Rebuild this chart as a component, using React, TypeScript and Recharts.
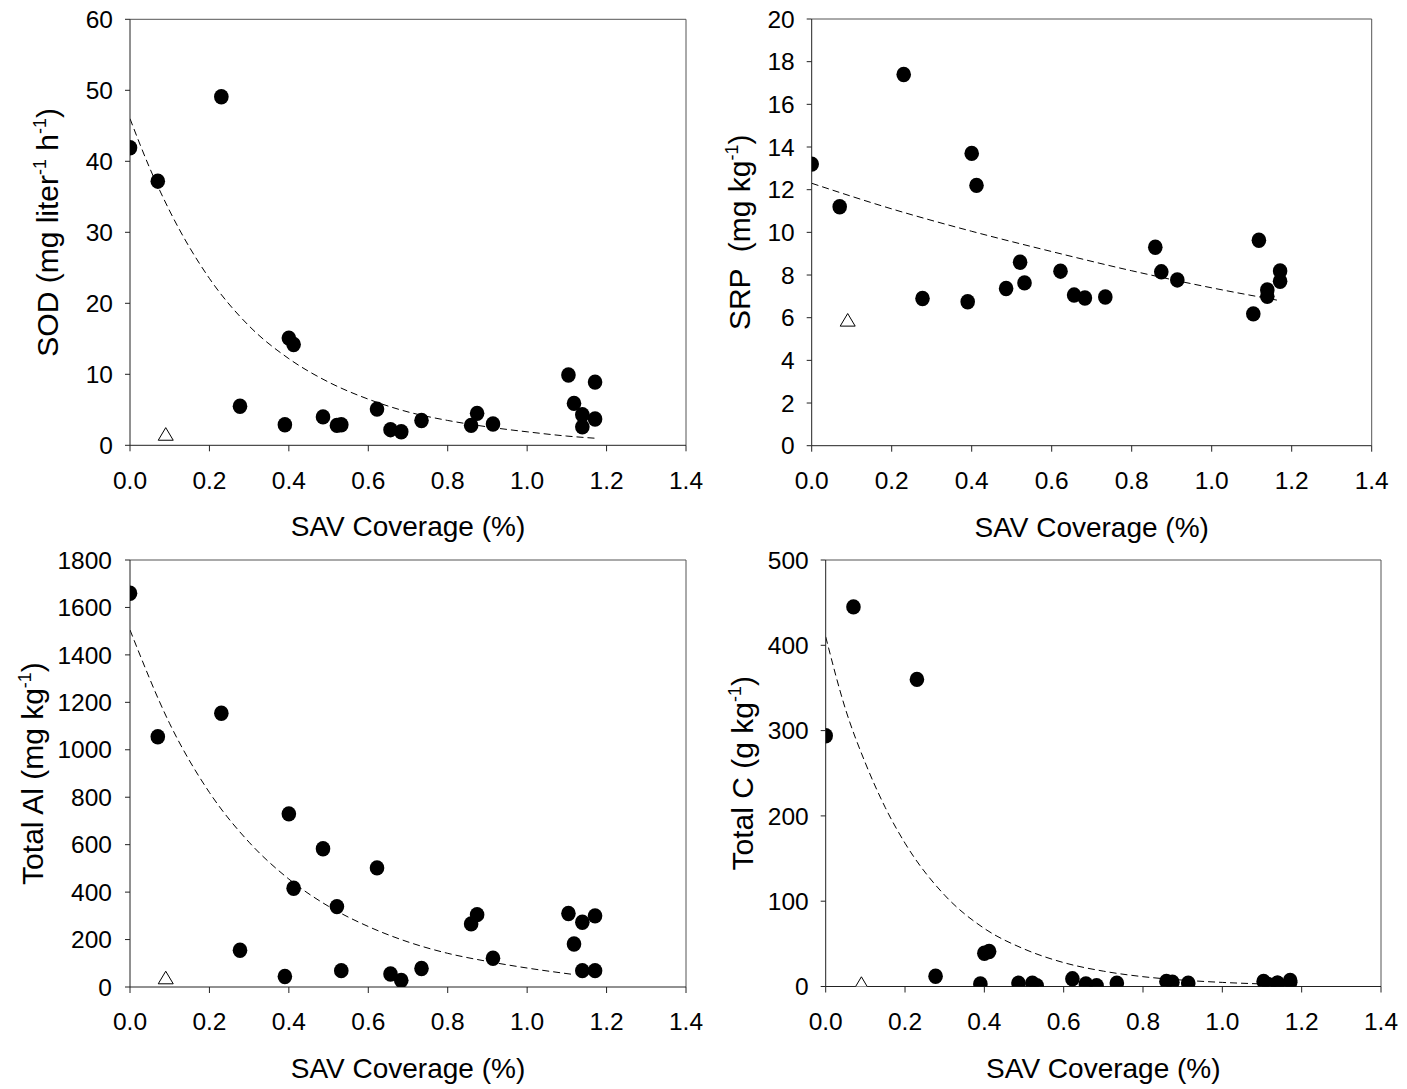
import React from 'react';
import { ComposedChart, Scatter, Line, XAxis, YAxis, ReferenceLine } from 'recharts';

// ---- data ----
const coverage = [0.0, 0.07, 0.23, 0.277, 0.39, 0.40, 0.412, 0.486, 0.521, 0.532, 0.622, 0.656, 0.683, 0.734, 0.859, 0.874, 0.914, 1.104, 1.118, 1.139, 1.139, 1.171, 1.171];
const sodValues = [41.9, 37.2, 49.1, 5.5, 2.9, 15.1, 14.2, 4.0, 2.8, 2.9, 5.1, 2.2, 1.9, 3.5, 2.8, 4.5, 3.0, 9.9, 5.9, 4.3, 2.6, 8.9, 3.7];
const srpValues = [13.2, 11.2, 17.4, 6.9, 6.75, 13.7, 12.2, 7.37, 8.6, 7.63, 8.18, 7.06, 6.92, 6.97, 9.3, 8.15, 7.77, 6.18, 9.63, 7.3, 7.0, 8.19, 7.71];
const alValues = [1660, 1055, 1154, 155, 44, 730, 416, 583, 339, 69, 502, 55, 28, 78, 266, 305, 121, 310, 181, 273, 69, 300, 69];
const cValues = [294, 445, 360, 12, 3, 39, 41, 4, 4, 1, 9, 3, 1, 4, 6, 5, 4, 6, 2, 4, 4, 7, 5];

const refCoverage = [0.09];
const sodRef = [1.6];
const srpRef = [5.9];
const alRef = [40];
const cRef = [4];

const sodFitX = [0, 0.05, 0.1, 0.2, 0.3, 0.4, 0.5, 0.6, 0.7, 0.8, 0.9, 1.0, 1.1, 1.17];
const sodFitY = [46.0, 39.0, 33.0, 23.5, 16.8, 12.2, 8.9, 6.5, 4.7, 3.5, 2.6, 1.9, 1.3, 1.0];
const srpFitX = [0, 0.2, 0.4, 0.6, 0.8, 1.0, 1.17];
const srpFitY = [12.3, 11.1, 10.05, 9.1, 8.2, 7.4, 6.8];
const alFitX = [0, 0.1, 0.2, 0.3, 0.4, 0.5, 0.6, 0.7, 0.8, 0.9, 1.0, 1.12];
const alFitY = [1505, 1110, 820, 610, 455, 340, 255, 190, 142, 108, 80, 52];
const cFitX = [0, 0.05, 0.1, 0.15, 0.2, 0.3, 0.4, 0.5, 0.6, 0.7, 0.8, 0.9, 1.0, 1.1];
const cFitY = [410, 325, 262, 210, 168, 107, 68, 44, 28, 18, 11.5, 7.5, 4.8, 3];

const xTicks = [0, 0.2, 0.4, 0.6, 0.8, 1.0, 1.2, 1.4];
const sodTicks = [0, 10, 20, 30, 40, 50, 60];
const srpTicks = [0, 2, 4, 6, 8, 10, 12, 14, 16, 18, 20];
const alTicks = [0, 200, 400, 600, 800, 1000, 1200, 1400, 1600, 1800];
const cTicks = [0, 100, 200, 300, 400, 500];

const FONT = '"Liberation Sans", Arial, Helvetica, sans-serif';

const Dot = (props: any) => {
  const { cx, cy } = props;
  if (cx == null || cy == null) return null;
  return <ellipse cx={cx} cy={cy} rx={7.3} ry={7.7} fill="#000" />;
};

const Tri = (props: any) => {
  const { cx, cy } = props;
  if (cx == null || cy == null) return null;
  const w = 7.5;
  const h = 12.6;
  return (
    <path
      d={`M${cx},${cy - h / 2}L${cx + w},${cy + h / 2}L${cx - w},${cy + h / 2}Z`}
      fill="#fff"
      stroke="#000"
      strokeWidth={1}
    />
  );
};

type TitlePart = { t: string; sup?: boolean };

interface PanelProps {
  chart: { left: number; top: number; width: number; height: number };
  plot: { x0: number; x1: number; y0: number; y1: number };
  yDomain: [number, number];
  yTicks: number[];
  values: number[];
  refValues: number[];
  fitX: number[];
  fitY: number[];
  title: TitlePart[];
  titleX: number; // page x of rotated baseline
  yTickMargin: number;
}

const YTitle = ({ viewBox, parts, bx }: any) => {
  const cy = viewBox.y + viewBox.height / 2;
  const nodes: React.ReactNode[] = [];
  let raised = false;
  parts.forEach((p: TitlePart, i: number) => {
    if (p.sup) {
      nodes.push(
        <tspan key={i} fontSize={18} dy={-12}>
          {p.t}
        </tspan>
      );
      raised = true;
    } else {
      nodes.push(
        <tspan key={i} dy={raised ? 12 : 0}>
          {p.t}
        </tspan>
      );
      raised = false;
    }
  });
  return (
    <text
      x={bx}
      y={cy}
      transform={`rotate(-90 ${bx} ${cy})`}
      textAnchor="middle"
      fontSize={30}
      fontFamily={FONT}
      fill="#000"
      style={{ whiteSpace: 'pre' }}
    >
      {nodes}
    </text>
  );
};

const XTitle = ({ viewBox }: any) => {
  const cx = viewBox.x + viewBox.width / 2;
  const by = viewBox.y + 91;
  return (
    <text x={cx} y={by} textAnchor="middle" fontSize={28} fontFamily={FONT} fill="#000">
      SAV Coverage (%)
    </text>
  );
};

const Panel = (p: PanelProps) => {
  const { chart, plot } = p;
  const points = coverage.map((x, i) => ({ x, y: p.values[i] }));
  const refPts = refCoverage.map((x, i) => ({ x, y: p.refValues[i] }));
  const fit = p.fitX.map((x, i) => ({ x, y: p.fitY[i] }));
  const margin = {
    top: plot.y0 - chart.top,
    left: 0,
    right: chart.left + chart.width - plot.x1,
    bottom: 0,
  };
  const yAxisWidth = plot.x0 - chart.left;
  const xAxisHeight = chart.top + chart.height - plot.y1;
  const bx = p.titleX - chart.left;
  return (
    <div style={{ position: 'absolute', left: chart.left, top: chart.top }}>
      <ComposedChart width={chart.width} height={chart.height} margin={margin}>
        <XAxis
          type="number"
          dataKey="x"
          domain={[0, 1.4]}
          ticks={xTicks}
          interval={0}
          allowDataOverflow
          tickFormatter={(v: number) => v.toFixed(1)}
          height={xAxisHeight}
          tickSize={6}
          tickMargin={20}
          axisLine={{ stroke: '#222', strokeWidth: 1 }}
          tickLine={{ stroke: '#222', strokeWidth: 1 }}
          tick={{ fontSize: 24.5, fill: '#000', fontFamily: FONT }}
          label={{ content: (lp: any) => <XTitle viewBox={lp.viewBox} /> }}
        />
        <YAxis
          type="number"
          dataKey="y"
          domain={p.yDomain}
          ticks={p.yTicks}
          interval={0}
          allowDataOverflow
          width={yAxisWidth}
          tickSize={5}
          tickMargin={p.yTickMargin}
          axisLine={{ stroke: '#222', strokeWidth: 1 }}
          tickLine={{ stroke: '#222', strokeWidth: 1 }}
          tick={{ fontSize: 24.5, fill: '#000', fontFamily: FONT }}
          label={{ content: (lp: any) => <YTitle viewBox={lp.viewBox} parts={p.title} bx={bx} /> }}
        />
        <ReferenceLine y={p.yDomain[1]} stroke="#555" strokeWidth={1} />
        <ReferenceLine x={1.4} stroke="#555" strokeWidth={1} />
        <Line
          data={fit}
          dataKey="y"
          type="monotone"
          stroke="#000"
          strokeWidth={1}
          strokeDasharray="7 4"
          dot={false}
          activeDot={false}
          isAnimationActive={false}
        />
        <Scatter data={points} dataKey="y" shape={Dot} isAnimationActive={false} />
        <Scatter data={refPts} dataKey="y" shape={Tri} isAnimationActive={false} />
      </ComposedChart>
    </div>
  );
};

export default function App() {
  return (
    <div
      style={{
        position: 'absolute',
        left: 0,
        top: 0,
        width: 1407,
        height: 1089,
        background: '#fff',
        fontFamily: FONT,
      }}
    >
      <Panel
        chart={{ left: 0, top: 0, width: 703, height: 545 }}
        plot={{ x0: 130, x1: 686, y0: 19.3, y1: 445.3 }}
        yDomain={[0, 60]}
        yTicks={sodTicks}
        values={sodValues}
        refValues={sodRef}
        fitX={sodFitX}
        fitY={sodFitY}
        title={[{ t: 'SOD (mg liter' }, { t: '-1', sup: true }, { t: ' h' }, { t: '-1', sup: true }, { t: ')' }]}
        titleX={58}
        yTickMargin={12}
      />
      <Panel
        chart={{ left: 703, top: 0, width: 704, height: 545 }}
        plot={{ x0: 811.7, x1: 1371.7, y0: 19, y1: 445.7 }}
        yDomain={[0, 20]}
        yTicks={srpTicks}
        values={srpValues}
        refValues={srpRef}
        fitX={srpFitX}
        fitY={srpFitY}
        title={[{ t: 'SRP  (mg kg' }, { t: '-1', sup: true }, { t: ')' }]}
        titleX={750}
        yTickMargin={12}
      />
      <Panel
        chart={{ left: 0, top: 545, width: 703, height: 544 }}
        plot={{ x0: 130, x1: 686, y0: 560, y1: 987 }}
        yDomain={[0, 1800]}
        yTicks={alTicks}
        values={alValues}
        refValues={alRef}
        fitX={alFitX}
        fitY={alFitY}
        title={[{ t: 'Total Al (mg kg' }, { t: '-1', sup: true }, { t: ')' }]}
        titleX={43}
        yTickMargin={13}
      />
      <Panel
        chart={{ left: 703, top: 545, width: 704, height: 544 }}
        plot={{ x0: 825.7, x1: 1381, y0: 560, y1: 986.5 }}
        yDomain={[0, 500]}
        yTicks={cTicks}
        values={cValues}
        refValues={cRef}
        fitX={cFitX}
        fitY={cFitY}
        title={[{ t: 'Total C (g kg' }, { t: '-1', sup: true }, { t: ')' }]}
        titleX={753}
        yTickMargin={12}
      />
    </div>
  );
}
